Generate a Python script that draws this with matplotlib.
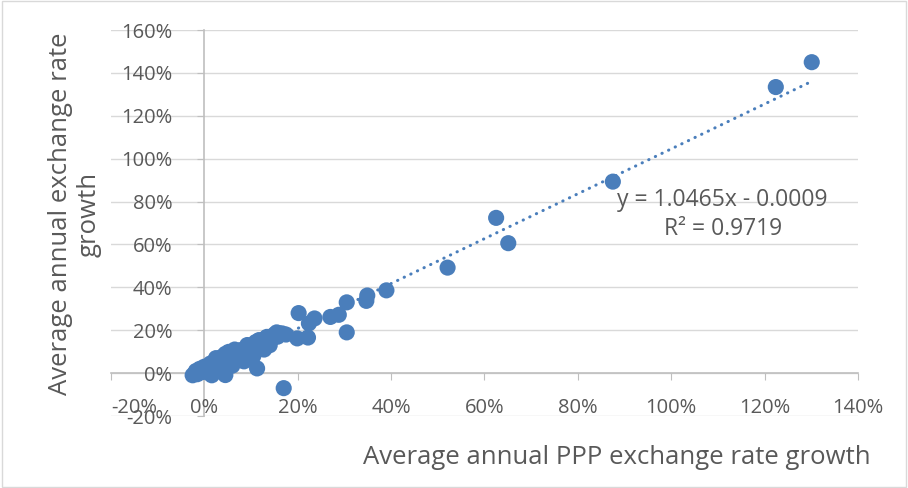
import numpy as np
import matplotlib
matplotlib.use("Agg")
import matplotlib.pyplot as plt
from matplotlib.patches import Rectangle

plt.rcParams['font.family'] = ['Open Sans', 'DejaVu Sans']
plt.rcParams['axes.unicode_minus'] = False

# PPP growth (x) vs exchange rate growth (y)
ppp_growth = [-0.025, -0.02, -0.018, -0.015, -0.01, -0.005, 0.0, 0.003, 0.006, 0.01,
              0.013, 0.016, 0.02, 0.024, 0.028, 0.03, 0.035, 0.038, 0.04, 0.045,
              0.045, 0.05, 0.052, 0.055, 0.06, 0.065, 0.067, 0.07, 0.075, 0.077,
              0.08, 0.084, 0.088, 0.092, 0.095, 0.1, 0.102, 0.105, 0.11, 0.113,
              0.117, 0.12, 0.124, 0.128, 0.134, 0.14, 0.145, 0.15, 0.155, 0.157,
              0.162, 0.167, 0.17, 0.175, 0.199, 0.202, 0.222, 0.224, 0.236, 0.27,
              0.288, 0.305, 0.305, 0.347, 0.349, 0.39, 0.521, 0.625, 0.651, 0.875,
              1.224, 1.301,
              0.025, 0.045, 0.065, 0.09, 0.11, 0.13, 0.15, 0.085, 0.06, 0.14]
fx_growth = [-0.01, 0.0, 0.01, -0.005, 0.02, 0.005, 0.03, 0.015, 0.025, 0.0,
             0.045, -0.01, 0.02, 0.06, 0.035, 0.05, 0.04, 0.076, 0.015, -0.009,
             0.06, 0.08, 0.099, 0.05, 0.07, 0.09, 0.06, 0.1, 0.08, 0.107,
             0.06, 0.076, 0.1, 0.131, 0.09, 0.115, 0.107, 0.08, 0.12, 0.022,
             0.154, 0.13, 0.138, 0.11, 0.169, 0.15, 0.16, 0.18, 0.19, 0.17,
             0.185, 0.185, -0.07, 0.18, 0.162, 0.28, 0.166, 0.232, 0.255, 0.262,
             0.272, 0.19, 0.33, 0.337, 0.362, 0.386, 0.492, 0.724, 0.606, 0.893,
             1.334, 1.45,
             0.07, 0.09, 0.11, 0.12, 0.145, 0.16, 0.175, 0.055, 0.035, 0.13]

slope = 1.0465
intercept = -0.0009
r2 = 0.9719

x_ticks = [-0.2, 0.0, 0.2, 0.4, 0.6, 0.8, 1.0, 1.2, 1.4]
x_labels = ['-20%', '0%', '20%', '40%', '60%', '80%', '100%', '120%', '140%']
y_ticks = [-0.2, 0.0, 0.2, 0.4, 0.6, 0.8, 1.0, 1.2, 1.4, 1.6]
y_labels = ['-20%', '0%', '20%', '40%', '60%', '80%', '100%', '120%', '140%', '160%']

blue = '#4a7ebb'
grey_text = '#595959'

fig = plt.figure(figsize=(9.08, 4.88), dpi=100)
ax = fig.add_axes([0.1222, 0.1475, 0.8227, 0.791])
ax.set_xlim(-0.2, 1.4)
ax.set_ylim(-0.2, 1.6)

for yv in y_ticks:
    ax.axhline(yv, color='#d9d9d9', lw=1.0, zorder=0)

ax.spines['top'].set_visible(False)
ax.spines['right'].set_visible(False)
ax.spines['bottom'].set_position(('data', 0))
ax.spines['left'].set_position(('data', 0))
for s in ('bottom', 'left'):
    ax.spines[s].set_color('#bfbfbf')
    ax.spines[s].set_linewidth(1.2)
    ax.spines[s].set_zorder(1)

ax.set_xticks(x_ticks)
ax.set_xticklabels(x_labels)
ax.set_yticks(y_ticks)
ax.set_yticklabels(y_labels)
ax.tick_params(axis='both', direction='out', length=5, color='#bfbfbf',
               labelcolor=grey_text, labelsize=14.5)
ax.tick_params(axis='x', pad=13)
ax.tick_params(axis='y', pad=18)
ax.get_xticklabels()[0].set_horizontalalignment('left')

ax.scatter(ppp_growth, fx_growth, s=135, color=blue, edgecolors='none', zorder=3)

xs = np.array([min(ppp_growth), max(ppp_growth)])
ax.plot(xs, slope * xs + intercept, color=blue, lw=2.2,
        linestyle=(0, (0.1, 2.3)), dash_capstyle='round', zorder=2)

ax.text(1.11, 0.74, f"y = {slope:.4f}x - {abs(intercept):.4f}\nR² = {r2:.4f}",
        ha='center', va='center', multialignment='center', fontsize=16.5,
        color=grey_text, linespacing=1.3, zorder=4)

fig.text(75 / 908, 1 - 214 / 488, "Average annual exchange rate\ngrowth", rotation=90,
         ha='center', va='center', multialignment='center', fontsize=18.5,
         color=grey_text, linespacing=1.2)
fig.text(617 / 908, 1 - 458 / 488, "Average annual PPP exchange rate growth",
         ha='center', va='center', fontsize=18.5, color=grey_text)

fig.patches.append(Rectangle((0.002, 0.003), 0.996, 0.994, transform=fig.transFigure,
                             fill=False, ec='#d9d9d9', lw=1))

fig.savefig('out.png', dpi=100)
